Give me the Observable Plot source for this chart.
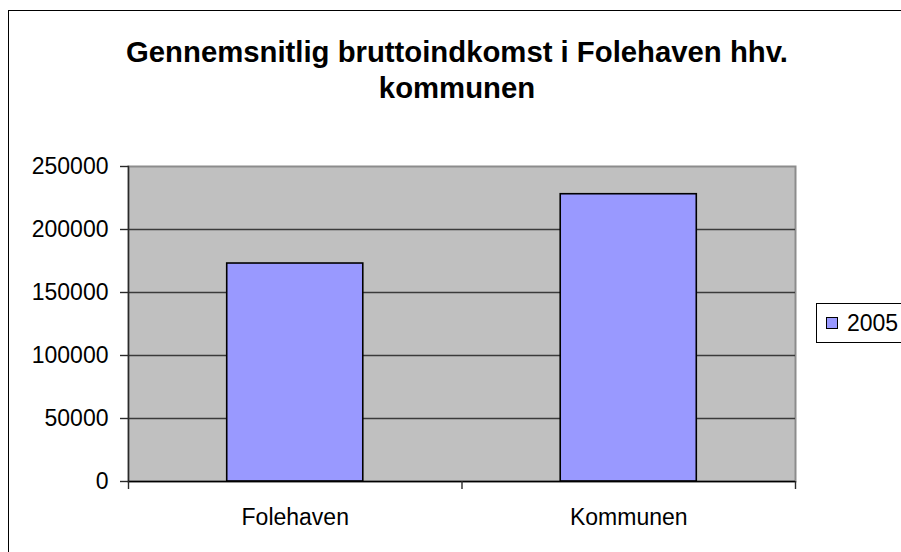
<!DOCTYPE html>
<html>
<head>
<meta charset="utf-8">
<script src="https://cdn.jsdelivr.net/npm/d3@7"></script>
<script src="https://cdn.jsdelivr.net/npm/@observablehq/plot@0.6"></script>
<style>
  html, body { margin: 0; padding: 0; background: #fff; }
  #chart { position: relative; width: 901px; height: 552px; overflow: hidden; font-family: "Liberation Sans", Arial, sans-serif; }
  #frame { position: absolute; left: 8px; top: 10px; width: 950px; height: 700px; border: 1px solid #000; box-sizing: border-box; }
  #title { position: absolute; left: 8px; width: 898px; top: 34px; text-align: center; font-weight: bold; font-size: 29.3px; line-height: 36px; color: #000; z-index: 2; }
  #plot { position: absolute; left: 0; top: 0; z-index: 1; }
  #legend { position: absolute; left: 816px; top: 303px; width: 110px; height: 40px; border: 1px solid #000; box-sizing: border-box; background: #fff; z-index: 3; }
  #legend .sw { position: absolute; left: 9px; top: 13px; width: 12px; height: 12px; background: #9999ff; border: 1px solid #000; box-sizing: border-box; }
  #legend .lb { position: absolute; left: 30px; top: 6px; font-size: 23px; line-height: 26px; color: #000; }
</style>
</head>
<body>
<div id="chart">
  <div id="frame"></div>
  <div id="title">Gennemsnitlig bruttoindkomst i Folehaven hhv.<br>kommunen</div>
  <div id="plot"></div>
  <div id="legend"><div class="sw"></div><div class="lb"></div></div>
</div>
<script>
const categories = ["Folehaven", "Kommunen"];
const values2005 = [173000, 228000];
const seriesName = "2005";
const yTicks = [0, 50000, 100000, 150000, 200000, 250000];
const gridTicks = [50000, 100000, 150000, 200000];

const data = categories.map((c, i) => ({cat: c, i, value: values2005[i]}));
const barGap = 0.296; // Excel-style gap on each side of a bar, as fraction of category width

const chart = Plot.plot({
  width: 901,
  height: 552,
  marginLeft: 128,
  marginRight: 106,
  marginTop: 166,
  marginBottom: 71,
  style: {background: "transparent", fontFamily: "Liberation Sans, Arial, sans-serif", color: "#000"},
  x: {type: "linear", domain: [0, categories.length], axis: null, label: null},
  y: {domain: [0, 250000], axis: null, label: null},
  marks: [
    Plot.frame({fill: "#c0c0c0", stroke: "#8c8c8c", strokeWidth: 2}),
    Plot.ruleY(gridTicks, {stroke: "#3a3a3a", strokeWidth: 1.4}),
    Plot.rectY(data, {x1: d => d.i + barGap, x2: d => d.i + 1 - barGap, y: "value", fill: "#9999ff", stroke: "#000", strokeWidth: 1.6}),
    Plot.frame({anchor: "left", stroke: "#2a2a2a", strokeWidth: 1.4}),
    Plot.ruleY([0], {stroke: "#000", strokeWidth: 1.6}),
    Plot.axisY({ticks: yTicks, tickSize: 8, tickPadding: 12, fontSize: 23, label: null, tickFormat: d => String(d), stroke: "#2a2a2a", strokeWidth: 1.4}),
    Plot.axisX({ticks: d3.range(categories.length + 1), tickSize: 8, label: null, tickFormat: () => "", stroke: "#2a2a2a", strokeWidth: 1.4}),
    Plot.axisX({ticks: categories.map((c, i) => i + 0.5), tickSize: 0, tickPadding: 27, fontSize: 23, label: null, tickFormat: v => categories[Math.floor(v)]})
  ]
});
document.getElementById("plot").appendChild(chart);
document.querySelector("#legend .lb").textContent = seriesName;
</script>
</body>
</html>
